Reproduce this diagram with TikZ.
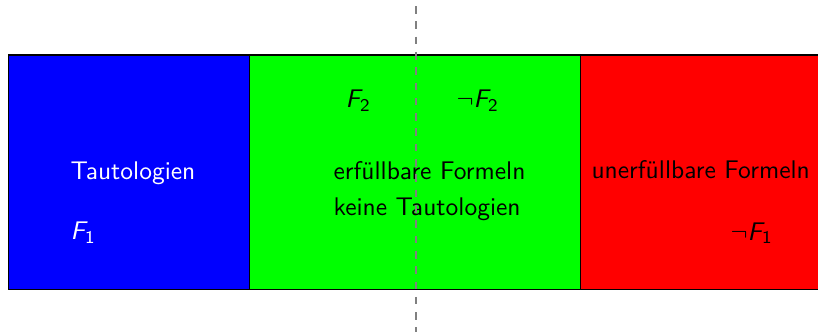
\documentclass[tikz,border=0pt]{standalone}
\usepackage{fontspec}
\newcommand{\fml}[1]{$\textit{F}_{\mathsf{#1}}$}
\begin{document}
\begin{tikzpicture}[
  x=0.392pt, y=-0.392pt,
  area/.style={draw=black, line width=0.4pt},
  txt/.style={anchor=base west, inner sep=0pt, font=\sffamily},
  cut/.style={draw=gray, dashed, line width=0.5pt}
]
  \useasboundingbox (0,0) rectangle (818,332);

  % Bereiche: Tautologien, erfuellbar, unerfuellbar
  \draw[area, fill=blue]  (8.7,55) rectangle (249.3,289.3);
  \draw[area, fill=green] (249.3,55) rectangle (580.7,289.3);
  \draw[area, fill=red]   (580.7,55) rectangle (822,289.3);

  % Beschriftungen
  \node[txt, text=white] (taut) at (70,179.3) {Tautologien};
  \node[txt, text=white] (f1) at (70,239.3) {\fml{1}};
  \node[txt] (f2) at (345,107.3) {\fml{2}};
  \node[txt] (nf2) at (456,107.3) {$\neg$\fml{2}};
  \node[txt] (erf) at (333,179.3) {erfüllbare Formeln};
  \node[txt] (keine) at (333,215) {keine Tautologien};
  \node[txt] (unerf) at (591,178.3) {unerfüllbare Formeln};
  \node[txt] (nf1) at (730,240) {$\neg$\fml{1}};

  % Trennlinie
  \coordinate (cuttop) at (416,6);
  \coordinate (cutbot) at (416,332);
  \draw[cut] (cuttop) -- (cutbot);
\end{tikzpicture}
\end{document}
